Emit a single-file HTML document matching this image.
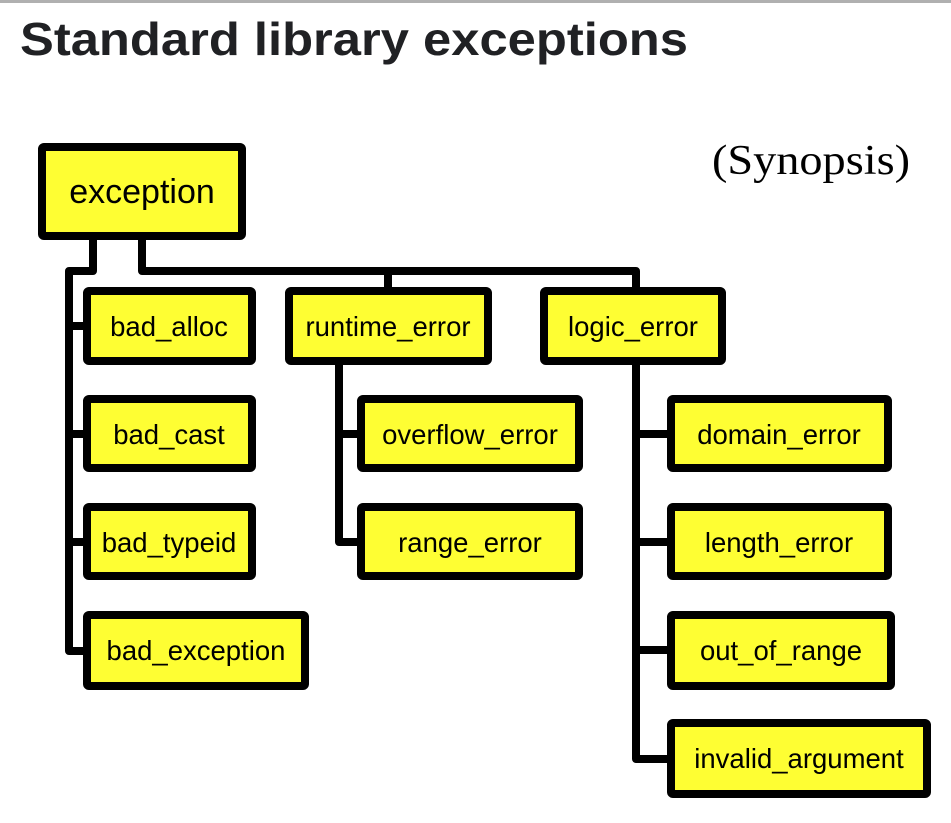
<!DOCTYPE html>
<html><head><meta charset="utf-8"><style>
html,body{margin:0;padding:0;background:#fff;width:951px;height:823px;overflow:hidden}
</style></head><body>
<svg width="951" height="823" xmlns="http://www.w3.org/2000/svg" font-family="Liberation Sans, Arial, sans-serif">
<rect x="0" y="0" width="951" height="3" fill="#b0b0b0"/>
<text x="20" y="55" font-size="46" font-weight="bold" fill="#202124" textLength="668" lengthAdjust="spacingAndGlyphs">Standard library exceptions</text>
<text x="712" y="174" font-size="42" font-family="Liberation Serif, serif" fill="#000" textLength="198" lengthAdjust="spacingAndGlyphs">(Synopsis)</text>
<g stroke="#000" stroke-width="8" fill="none" stroke-linejoin="round">
<polyline points="93,240 93,271 69,271 69,651 83,651"/>
<line x1="69" y1="326" x2="83" y2="326"/>
<line x1="69" y1="434" x2="83" y2="434"/>
<line x1="69" y1="542" x2="83" y2="542"/>
<polyline points="142,240 142,271 636,271 636,287"/>
<line x1="388" y1="271" x2="388" y2="287"/>
<polyline points="339,365 339,542 357,542"/>
<line x1="339" y1="434" x2="357" y2="434"/>
<polyline points="636,365 636,759 667,759"/>
<line x1="636" y1="434" x2="667" y2="434"/>
<line x1="636" y1="542" x2="667" y2="542"/>
<line x1="636" y1="650" x2="667" y2="650"/>
</g>
<g stroke="#000" stroke-width="8" fill="#fefe33">
<rect x="42" y="147" width="200" height="89" rx="2"/>
<rect x="87" y="291" width="165" height="70" rx="2"/>
<rect x="289" y="291" width="199" height="70" rx="2"/>
<rect x="544" y="291" width="178" height="70" rx="2"/>
<rect x="87" y="399" width="165" height="69" rx="2"/>
<rect x="87" y="507" width="165" height="69" rx="2"/>
<rect x="87" y="615" width="218" height="71" rx="2"/>
<rect x="361" y="399" width="218" height="69" rx="2"/>
<rect x="361" y="507" width="218" height="69" rx="2"/>
<rect x="671" y="399" width="217" height="69" rx="2"/>
<rect x="671" y="507" width="217" height="69" rx="2"/>
<rect x="671" y="615" width="220" height="71" rx="2"/>
<rect x="671" y="723" width="256" height="71" rx="2"/>
</g>
<g font-size="27.5" fill="#000" text-anchor="middle">
<text x="142" y="203" font-size="34">exception</text>
<text x="169" y="336">bad_alloc</text>
<text x="388" y="336">runtime_error</text>
<text x="633" y="336">logic_error</text>
<text x="169" y="444">bad_cast</text>
<text x="169" y="552">bad_typeid</text>
<text x="196" y="660">bad_exception</text>
<text x="470" y="444">overflow_error</text>
<text x="470" y="552">range_error</text>
<text x="779" y="444">domain_error</text>
<text x="779" y="552">length_error</text>
<text x="781" y="660">out_of_range</text>
<text x="799" y="768">invalid_argument</text>
</g>
</svg>
</body></html>
